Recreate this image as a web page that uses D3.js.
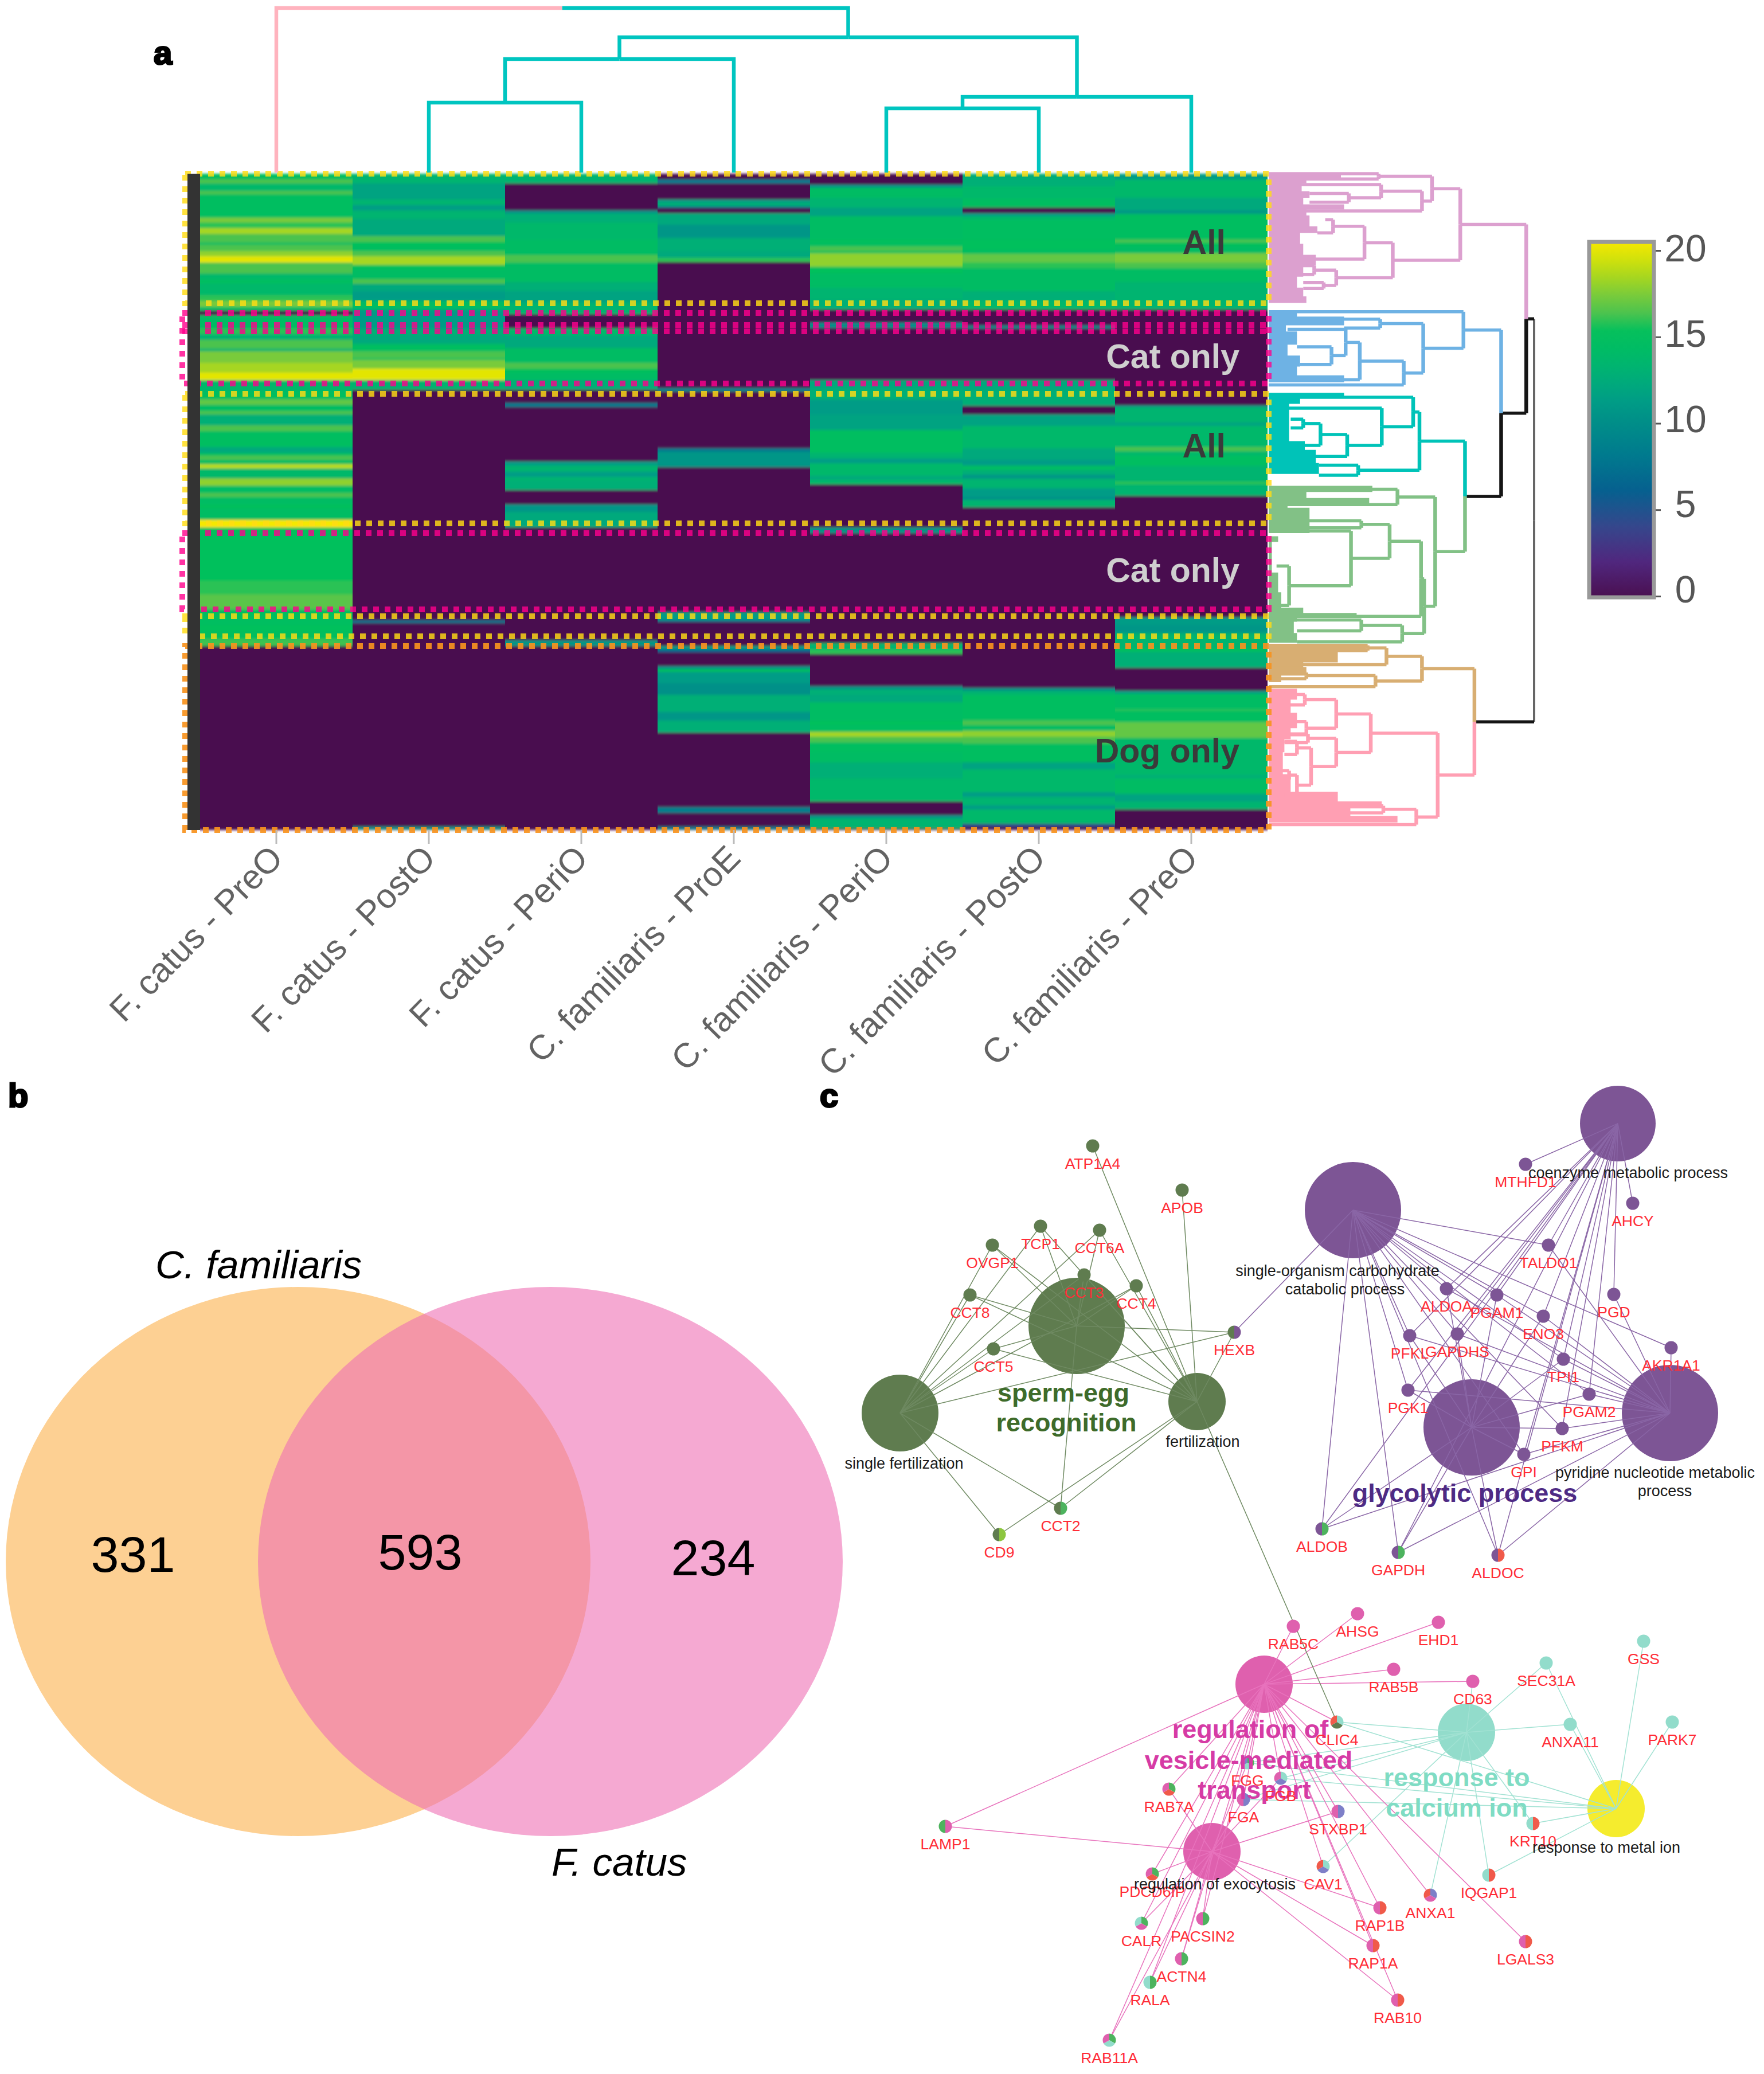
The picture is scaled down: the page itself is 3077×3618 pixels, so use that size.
<!DOCTYPE html>
<html><head><meta charset="utf-8">
<script src="https://d3js.org/d3.v7.min.js"></script>
<style>html,body{margin:0;background:#fff}svg{display:block;font-family:"Liberation Sans",Arial,sans-serif}</style>
</head><body><div id="chart"></div>
<script>
// ---------- panel a: heatmap data, [first row of the run, log2 intensity] ----------
const columns = ["F. catus - PreO","F. catus - PostO","F. catus - PeriO","C. familiaris - ProE","C. familiaris - PeriO","C. familiaris - PostO","C. familiaris - PreO"];
const catusPreO = [[0,14.5],[10,16],[17,13.5],[30,16],[36,14.5],[77,17],[85,15.5],[95,18],[105,16],[120,14],[124,16],[135,17.5],[144,19.5],[155,16],[174,13.5],[184,14.5],[192,13.5],[212,15.5],[222,17],[232,14],[239,0],[247,14],[270,15.5],[280,13],[290,16],[305,13],[310,17],[330,18],[347,19.5],[360,13.5],[380,14.5],[394,16.5],[403,14],[414,16],[420,12.5],[439,16],[449,14.5],[477,12],[487,14.5],[492,16],[499,14],[507,18.5],[514,13.5],[532,17.5],[544,14],[557,16],[564,14],[577,15],[584,14],[604,20],[617,15],[710,15.5],[734,16.3],[760,14.5],[787,15],[799,14.5],[812,15.8],[824,0]];
const catusPostO = [[0,13],[17,11.5],[45,13],[55,11],[64,13],[79,12],[109,16],[119,15],[127,14.5],[135,16],[144,18],[159,15],[167,14],[184,16],[192,12],[205,11],[222,14],[237,11],[270,12.5],[282,12],[297,14.5],[310,16],[322,14.5],[325,17],[340,19.5],[360,13],[377,0],[779,7.5],[784,0],[1139,10],[1144,0]];
const catusPeriO = [[0,13],[17,0],[64,10],[69,12.5],[85,13.5],[115,14],[142,16],[155,14],[189,12.5],[205,11.5],[225,13],[245,0],[270,13.5],[282,12],[304,14],[330,16],[340,15],[347,14],[360,12.5],[377,0],[400,8],[407,0],[502,11],[509,13],[520,11],[529,13],[535,12.5],[552,0],[577,10.5],[590,12],[617,0],[814,10.5],[824,0]];
const famProE = [[0,0],[10,8],[17,0],[45,11],[50,12.5],[57,7],[60,0],[69,12],[89,10.5],[112,12.5],[135,12],[147,15.5],[154,0],[374,9],[380,0],[479,8],[485,10.5],[512,0],[765,11],[779,7],[782,0],[824,11],[830,6],[835,0],[859,10],[864,15],[869,11],[889,10],[909,12.5],[939,10.5],[954,12.5],[975,0],[1105,8.5],[1115,0],[1139,8],[1144,0]];
const famPeriO = [[0,0],[19,10],[24,14],[42,13],[59,11.5],[74,14],[115,15],[120,14.5],[127,16],[135,14.5],[139,17.5],[162,15],[174,14],[199,13],[219,12.5],[237,0],[260,10],[269,0],[360,12],[374,12.5],[394,11],[420,11.5],[447,14.5],[487,13],[497,11],[505,13.5],[527,12],[534,13.5],[542,0],[617,10.5],[627,0],[819,13],[830,15.5],[838,0],[894,10],[899,12.5],[909,12],[922,14],[954,15],[962,14.5],[974,18],[982,16],[992,14.5],[1009,14],[1027,12.5],[1055,13.5],[1095,0],[1119,10],[1124,13],[1142,0]];
const famPostO = [[0,12],[5,12.5],[22,13.5],[44,14.5],[59,0],[69,11],[74,13.5],[80,14.5],[115,15],[132,14.5],[140,16.5],[155,15.5],[165,14],[205,12.5],[222,13.5],[237,0],[265,9.5],[270,0],[360,12],[377,12.5],[405,0],[420,11.5],[440,13.5],[479,12],[499,11],[509,14],[517,12.5],[525,10.5],[532,13],[549,11],[564,10],[569,13],[582,0],[897,10],[902,13],[909,14.5],[954,16],[962,14],[972,17.5],[982,16],[994,14.5],[1027,11.5],[1039,13.5],[1079,11],[1087,13],[1102,11],[1109,13.5],[1134,4],[1140,0]];
const famPreO = [[0,11],[10,13.5],[42,12],[64,10.5],[70,14.5],[115,16],[120,15],[127,14],[139,17],[155,16],[165,14],[189,13],[237,0],[404,10],[407,13],[434,11.5],[440,13.5],[477,16],[484,13.5],[492,14.5],[510,13],[537,15.5],[542,13],[562,0],[774,11],[787,10.5],[799,11],[802,13],[829,15],[834,12.5],[862,0],[902,11],[907,14],[934,15.5],[937,14.5],[957,16.5],[984,14],[987,13.5],[1049,12.5],[1055,14],[1082,11.5],[1095,13],[1109,0]];
const columnRuns = [catusPreO,catusPostO,catusPeriO,famProE,famPeriO,famPostO,famPreO];
const totalRows = 1145;
const colorDomain = [0,2,4,6,8,10,11,12,13,14,15,16,17,18,19,20];
const colorRange = ["#4a0f50","#50277e","#35478c","#06608f","#007a8e","#009088","#009c86","#00a97c","#00b470","#00bc64","#06c05c","#4cc34e","#79cb3b","#a6d620","#d0e10c","#f6e800"];
const colorbarTicks = [0,5,10,15,20];
// rows bounded by the dotted boxes, and the annotation in each
const boxes = [
 {from:824,to:1145,color:"rgba(247,147,30,.92)",left:0},
 {from:243,to:366,color:"rgba(255,0,140,.8)",left:1,extra:[264,275]},
 {from:627,to:760,color:"rgba(255,0,140,.8)",left:1},
 {from:0,to:226,color:"rgba(255,220,20,.82)",left:0},
 {from:384,to:610,color:"rgba(255,220,20,.82)",left:0},
 {from:772,to:807,color:"rgba(255,220,20,.82)",left:0}];
const bandNotes = [
 {t:"All",row:140,end:2138,c:"#3a3a3a"},{t:"Cat only",row:339,end:2162,c:"#cfcfcf"},
 {t:"All",row:495,end:2138,c:"#3a3a3a"},{t:"Cat only",row:712,end:2162,c:"#cfcfcf"},
 {t:"Dog only",row:1027,end:2162,c:"#3a3a3a"}];
// top dendrogram: merge heights over the columns
const lf = i => ({col:i});
const topTree = {d:287,color:"#00c5c0",kids:[
  {col:0,color:"#ffb3be"},
  {d:236,kids:[
    {d:198,kids:[{d:122,kids:[lf(1),lf(2)]},lf(3)]},
    {d:132,kids:[{d:112,kids:[lf(4),lf(5)]},lf(6)]}]}]};
// row dendrogram: n(merge distance, child, child); l(leaf position, distance of the stub)
const n=(h,a,b)=>({h,kids:[a,b]}); const l=(y,h=60)=>({y,h});
const lilacTree = n(670,
  n(580, n(410,l(30),l(42)), n(548, n(418,l(55),n(315,l(75,190),l(95,190))), l(115))),
  n(455, n(365,n(265,l(135,240),l(165,215)),l(225,160)), n(275,n(205,l(240,140),l(260,140)),n(235,l(278,170),l(292,170)))));
const blueTree = n(680, l(345),
  n(552, n(415,l(362),l(382,300)),
    n(490, n(350, n(305,l(385,120),n(260,l(425,150),l(465,160))), l(500,160)), l(512))));
const tealTree = n(540,
  n(520, l(540), n(420,l(565),n(310,n(225,n(170,l(590,130),l(610,130)),l(650,130)),l(675,130)))),
  n(345,l(695,220),l(718,220)));
const greenTree = n(590,
  n(470,l(750),l(785)),
  n(555, n(545, n(445, n(355,l(822),l(838)), n(322,l(845),n(125,l(925,85),l(1015,85)))), l(1040)),
     n(485, n(355,l(1048),l(1073,150)), l(1098,150))));
const tanTree = n(548, n(435,n(375,l(1106),l(1118)),l(1150)), n(400,n(180,l(1168),l(1182)),l(1200)));
const pinkTree = n(598,
  n(385, n(275,n(175,l(1218,110),l(1242,110)),n(180,l(1280,110),l(1310,110))),
     n(275,n(185,l(1308,110),l(1328,110)),n(195,n(150,l(1325,110),l(1355,110)),n(150,n(125,l(1392,95),l(1412,95)),l(1448,110))))),
  n(530, n(425,l(1472),l(1488)), l(1515)));
const clusters = [
 {tree:lilacTree,color:"#dca0cf",fan:[[28,300],[42,290],[52,180],[70,165],[85,190],[100,170],[112,300],[125,180],[150,190],[165,215],[190,160],[215,170],[240,210],[265,170],[290,150],[310,170],[325,180],[340,60]]},
 {tree:blueTree,color:"#6eb2e4",fan:[[342,180],[356,150],[376,300],[390,115],[420,150],[445,120],[470,160],[490,150],[506,300],[525,60]]},
 {tree:tealTree,color:"#00c3b8",fan:[[530,160],[540,300],[555,160],[590,125],[620,125],[640,125],[660,175],[690,210],[715,220],[738,60]]},
 {tree:greenTree,color:"#82c186",fan:[[742,300],[756,390],[770,180],[782,380],[792,120],[815,190],[850,190],[857,60],[870,90],[900,70],[940,70],[985,90],[1020,100],[1032,170],[1042,340],[1052,150],[1078,140],[1100,150],[1102,60]]},
 {tree:tanTree,color:"#d8ae72",fan:[[1104,300],[1116,370],[1125,280],[1145,280],[1156,170],[1175,180],[1190,100],[1200,60]]},
 {tree:pinkTree,color:"#ff9fb3",fan:[[1205,130],[1230,150],[1260,130],[1295,150],[1320,130],[1350,110],[1400,105],[1440,130],[1462,280],[1478,420],[1495,320],[1510,470],[1526,60]]}];
// ---------- panel b ----------
const vennSets = [{name:"C. familiaris",cx:520,fill:"#fdd093",op:1},{name:"F. catus",cx:960,fill:"#ee70b4",op:.6}];
const vennCounts = [{v:"331",x:232,y:2742},{v:"593",x:733,y:2738},{v:"234",x:1244,y:2748}];
// ---------- panel c: network ----------
const terms = [
 ["S",1878,2313,84,"#5f7c4f"],["F1",1570,2465,67,"#5f7c4f"],["F2",2088,2445,50,"#5f7c4f"],
 ["C",2360,2111,84,"#7d5595"],["Z",2822,1960,66,"#7d5595"],["Y",2567,2490,84,"#7d5595"],["R",2913,2465,84,"#7d5595"],
 ["V",2205,2938,50,"#df60ae"],["X",2114,3230,50,"#df60ae"],["K",2558,3022,50,"#92dccb"],["M",2819,3155,50,"#f5ec2e"]];
const genes = [
 ["ATP1A4",1906,1999,"F2","g"],["APOB",2062,2076,"F2","g"],["TCP1",1815,2139,"S F1 F2","g"],["CCT6A",1918,2146,"S F1 F2","g"],
 ["OVGP1",1731,2172,"S F1 F2","g"],["CCT3",1891,2224,"S F1 F2","g"],["CCT4",1982,2243,"S F1 F2","g"],["CCT8",1692,2259,"S F1 F2","g"],
 ["CCT5",1733,2353,"S F1 F2","g"],["HEXB",2153,2324,"S F1 F2 C","pg"],["CCT2",1850,2631,"S F1 F2","Gg"],["CD9",1743,2677,"F1 F2","lg"],
 ["MTHFD1",2661,2031,"Z","p"],["AHCY",2848,2099,"Z","p"],["TALDO1",2701,2172,"C Z R","p"],["PGD",2815,2258,"Z R","p"],
 ["ALDOA",2523,2248,"C Z Y R","p"],["PGAM1",2611,2259,"C Z Y R","p"],["ENO3",2692,2296,"C Z Y R","p"],["PFKL",2459,2330,"C Z Y R","p"],
 ["GAPDHS",2542,2327,"C Z Y R","p"],["AKR1A1",2915,2351,"C R","p"],["TPI1",2727,2371,"C Z Y R","p"],["PGK1",2456,2425,"C Z Y R","p"],
 ["PGAM2",2772,2432,"C Z Y R","p"],["PFKM",2725,2492,"C Z Y R","p"],["GPI",2658,2537,"C Z Y R","p"],["ALDOB",2306,2667,"C Z Y R","Gp"],
 ["GAPDH",2439,2708,"C Z Y R","Gp"],["ALDOC",2613,2713,"C Z Y R","rp"],
 ["RAB5C",2256,2837,"V","m"],["AHSG",2368,2815,"V","m"],["EHD1",2509,2830,"V","m"],["RAB5B",2431,2912,"V","m"],["CD63",2569,2933,"V K","m"],
 ["SEC31A",2697,2901,"K M","t"],["GSS",2867,2863,"M","t"],["ANXA11",2739,3008,"K M","t"],["PARK7",2917,3004,"M","t"],
 ["CLIC4",2332,3004,"V K M F2","tgr"],["FGG",2176,3075,"V X K M","Gtb"],["FGB",2234,3102,"V X K M","tbm"],["FGA",2169,3139,"V X K M","bm"],
 ["RAB7A",2039,3121,"V X","Grm"],["LAMP1",1649,3186,"V X","mG"],["STXBP1",2334,3160,"V X","bm"],["KRT10",2674,3181,"K M","rt"],
 ["PDCD6IP",2010,3269,"V X","Grm"],["CAV1",2308,3256,"V K","tbr"],["IQGAP1",2597,3271,"K M","rt"],["ANXA1",2495,3306,"V K","bmr"],
 ["RAP1B",2407,3328,"V X","rm"],["CALR",1991,3355,"V X","Gmt"],["PACSIN2",2098,3347,"V X","Gm"],["RAP1A",2395,3394,"V X","rm"],
 ["LGALS3",2661,3387,"V","rm"],["ACTN4",2061,3417,"V X","Gm"],["RALA",2006,3458,"V X","Gt"],["RAB10",2438,3489,"V X","rm"],["RAB11A",1935,3559,"V X","Gtm"]];
const sliceColors = {g:"#5f7c4f",l:"#8cc63f",G:"#4db35e",p:"#7d5595",m:"#df60ae",t:"#92dccb",r:"#f05a4a",b:"#7e7fc8"};
const edgeColors = {S:"#6f8a62",F1:"#6f8a62",F2:"#6f8a62",C:"#8a66a6",Z:"#8a66a6",Y:"#8a66a6",R:"#8a66a6",V:"#e873bd",X:"#e873bd",K:"#a2e2d3",M:"#a2e2d3"};
const blackLabels = [["single fertilization",1577,2562],["fertilization",2098,2524],["single-organism carbohydrate",2333,2226],["catabolic process",2346,2258],["coenzyme metabolic process",2840,2055],["pyridine nucleotide metabolic",2887,2578],["process",2904,2610],["regulation of exocytosis",2119,3296],["response to metal ion",2802,3232]];
const boldLabels = [["sperm-egg",1855,2445,"#3e6b2a"],["recognition",1860,2497,"#3e6b2a"],["glycolytic process",2555,2620,"#4e2a84"],["regulation of",2181,3032,"#d63ba5"],["vesicle-mediated",2178,3086,"#d63ba5"],["transport",2188,3138,"#d63ba5"],["response to",2541,3116,"#7fdcc4"],["calcium ion",2541,3169,"#7fdcc4"]];
const panelLetters = [["a",268,112],["b",14,1931],["c",1430,1931]];

// ---------- drawing ----------
const svg = d3.select("#chart").append("svg").attr("width",3077).attr("height",3618).attr("viewBox","0 0 3077 3618");
const defs = svg.append("defs");
defs.append("filter").attr("id","soft").attr("x","0").attr("y","-1%").attr("width","100%").attr("height","102%")
  .append("feGaussianBlur").attr("stdDeviation","0 2");
const x = d3.scaleBand().domain(columns).range([349,2211]);
const y = d3.scaleLinear().domain([0,totalRows]).range([303,1448]);
const color = d3.scaleLinear().domain(colorDomain).range(colorRange).clamp(true);

// heatmap
const hm = svg.append("g").attr("filter","url(#soft)");
hm.append("rect").attr("x",x.range()[0]).attr("y",y(0)).attr("width",x.range()[1]-x.range()[0]).attr("height",y(totalRows)-y(0)).attr("fill",color(0));
columns.forEach((c,i)=>{
  const runs = columnRuns[i];
  hm.selectAll(null).data(runs).join("rect")
    .attr("x",x(c)).attr("width",x.bandwidth())
    .attr("y",d=>y(d[0]))
    .attr("height",(d,j)=>y(j+1<runs.length?runs[j+1][0]:totalRows)-y(d[0]))
    .attr("fill",d=>color(d[1]));
});

// row dendrogram
const hx = d3.scaleLinear().domain([60,905]).range([2213,2676]);
const ly = d3.scaleLinear().domain([30,1530]).range([303,1450]);
const rowG = svg.append("g").attr("fill","none");
function layout(t){ if(t.kids){t.kids.forEach(layout); t.y=d3.mean(t.kids,k=>k.y);} return t; }
function paint(t,col){ t.color=col; if(t.kids) t.kids.forEach(k=>paint(k,col)); }
clusters.forEach(c=>paint(c.tree,c.color));
clusters.forEach(c=>{
  rowG.append("path").datum(c.fan).attr("fill",c.color)
    .attr("d",d3.area().x0(hx(60)).x1(d=>hx(d[1])).y(d=>ly(d[0])).curve(d3.curveStepAfter));
});
const black="#151515";
const tanPink = {h:715,kids:[clusters[4].tree,clusters[5].tree],color:black};
const x3 = {h:685,kids:[clusters[2].tree,clusters[3].tree],color:black};
const x2 = {h:800,kids:[clusters[1].tree,x3],color:black};
const x1 = {h:880,kids:[clusters[0].tree,x2],color:black};
const rowRoot = layout({h:905,kids:[x1,tanPink],color:black});
(function drawRow(t){
  if(!t.kids) return;
  t.kids.forEach(k=>{
    rowG.append("path").attr("stroke",t===rowRoot?"#666":k.color).attr("stroke-width",t===rowRoot?4:6.5)
      .attr("d",`M${hx(t.h)},${ly(t.y)}V${ly(k.y)}`);
    rowG.append("path").attr("stroke",t===rowRoot?black:k.color).attr("stroke-width",5.5)
      .attr("d",`M${hx(t.h)},${ly(k.y)}H${hx(k.h)}`);
    drawRow(k);
  });
})(rowRoot);

// dotted boxes, then the annotation strip over their left edge
const boxG = svg.append("g").attr("fill","none").attr("stroke-width",10).attr("stroke-dasharray","10 10");
boxes.forEach(b=>{
  const xl = b.left?318:323, xr=2213;
  boxG.append("rect").attr("x",xl).attr("y",y(b.from)).attr("width",xr-xl).attr("height",y(b.to)-y(b.from)).attr("stroke",b.color);
  (b.extra||[]).forEach(r=>boxG.append("line").attr("x1",xl).attr("x2",xr).attr("y1",y(r)).attr("y2",y(r)).attr("stroke",b.color));
});
svg.append("rect").attr("x",327).attr("y",y(0)).attr("width",22).attr("height",y(totalRows)-y(0)).attr("fill","#333");
svg.append("g").selectAll("text").data(bandNotes).join("text")
  .attr("x",d=>d.end).attr("y",d=>y(d.row)).attr("text-anchor","end")
  .attr("font-size",59).attr("font-weight","bold").attr("fill",d=>d.c).text(d=>d.t);

// top dendrogram
const dy = d3.scaleLinear().domain([0,287]).range([301,14]);
(function lay(t){ if(t.col!==undefined){t.x=x(columns[t.col])+x.bandwidth()/2;t.d=0;} else {t.kids.forEach(lay); t.x=d3.mean(t.kids,k=>k.x);} })(topTree);
const topG = svg.append("g").attr("fill","none").attr("stroke-width",6.5);
(function drawTop(t){
  if(!t.kids) return;
  t.kids.forEach(k=>{
    topG.append("path").attr("stroke",k.color||"#00c5c0").attr("d",`M${t.x},${dy(t.d)}H${k.x}V${dy(k.d)}`);
    drawTop(k);
  });
})(topTree);

// x axis
const xAxis = d3.axisBottom(x).tickSize(24).tickPadding(0).tickFormat("");
const xa = svg.append("g").attr("transform",`translate(0,${y(totalRows)})`).call(xAxis);
xa.select(".domain").remove();
xa.selectAll(".tick line").attr("stroke","#bbb").attr("stroke-width",3);
svg.append("g").selectAll("text").data(columns).join("text")
  .attr("transform",d=>`translate(${x(d)+x.bandwidth()/2-16},1470) rotate(-45.5)`)
  .attr("text-anchor","end").attr("dy","0.72em").attr("font-size",60).attr("fill","#636363").text(d=>d);

// colorbar
const cby = d3.scaleLinear().domain([0,20]).range([1040,437]);
const cbLabelY = d3.scaleLinear().domain([0,20]).range([1051,456]);
const grad = defs.append("linearGradient").attr("id","cb").attr("x1",0).attr("x2",0).attr("y1",1).attr("y2",0);
colorDomain.forEach((v,i)=>grad.append("stop").attr("offset",v/20).attr("stop-color",colorRange[i]));
svg.append("rect").attr("x",2772).attr("y",422).attr("width",113).attr("height",620).attr("fill","url(#cb)").attr("stroke","#999").attr("stroke-width",7);
const cbAxis = svg.append("g").attr("transform","translate(2888,0)").call(d3.axisRight(cby).tickValues(colorbarTicks).tickSize(9).tickFormat(""));
cbAxis.select(".domain").remove();
cbAxis.selectAll("line").attr("stroke","#555").attr("stroke-width",3);
svg.append("g").selectAll("text").data(colorbarTicks).join("text")
  .attr("x",2940).attr("y",d=>cbLabelY(d)).attr("text-anchor","middle").attr("font-size",66).attr("fill","#565656").text(d=>d);

// venn
svg.append("g").selectAll("ellipse").data(vennSets).join("ellipse")
  .attr("cx",d=>d.cx).attr("cy",2724).attr("rx",510).attr("ry",479).attr("fill",d=>d.fill).attr("opacity",d=>d.op);
svg.append("g").selectAll("text").data(vennCounts).join("text")
  .attr("x",d=>d.x).attr("y",d=>d.y).attr("text-anchor","middle").attr("font-size",88).attr("fill","#000").text(d=>d.v);
svg.append("text").attr("x",271).attr("y",2230).attr("font-size",69).attr("font-style","italic").text(vennSets[0].name);
svg.append("text").attr("x",962).attr("y",3272).attr("font-size",69).attr("font-style","italic").text(vennSets[1].name);

// network
const termById = Object.fromEntries(terms.map(t=>[t[0],t]));
const net = svg.append("g");
net.append("g").selectAll("circle").data(terms).join("circle")
  .attr("cx",d=>d[1]).attr("cy",d=>d[2]).attr("r",d=>d[3]).attr("fill",d=>d[4]);
const edges = genes.flatMap(g=>g[3].split(" ").map(t=>({g,t:termById[t]})));
net.append("g").attr("fill","none").selectAll("line").data(edges).join("line")
  .attr("x1",d=>d.g[1]).attr("y1",d=>d.g[2]).attr("x2",d=>d.t[1]).attr("y2",d=>d.t[2])
  .attr("stroke",d=>edgeColors[d.t[0]]).attr("stroke-width",1.5);
const pie = d3.pie().value(1).sort(null);
const arc = d3.arc().innerRadius(0).outerRadius(11.5);
const geneG = net.append("g").selectAll("g").data(genes).join("g").attr("transform",d=>`translate(${d[1]},${d[2]})`);
geneG.selectAll("path").data(d=>pie(d[4].split(""))).join("path").attr("d",arc).attr("fill",d=>sliceColors[d.data]);
net.append("g").selectAll("text").data(boldLabels).join("text")
  .attr("x",d=>d[1]).attr("y",d=>d[2]).attr("text-anchor","middle").attr("font-size",45).attr("font-weight","bold").attr("fill",d=>d[3]).text(d=>d[0]);
net.append("g").selectAll("text").data(genes).join("text")
  .attr("x",d=>d[1]).attr("y",d=>d[2]+40).attr("text-anchor","middle").attr("font-size",26.5).attr("fill","#ff2d37").text(d=>d[0]);
net.append("g").selectAll("text").data(blackLabels).join("text")
  .attr("x",d=>d[1]).attr("y",d=>d[2]).attr("text-anchor","middle").attr("font-size",27).attr("fill","#1a1a1a").text(d=>d[0]);

// panel letters
svg.append("g").selectAll("text").data(panelLetters).join("text")
  .attr("x",d=>d[1]).attr("y",d=>d[2]).attr("font-size",58).attr("font-weight","bold").attr("stroke","#000").attr("stroke-width",3).text(d=>d[0]);
</script></body></html>
